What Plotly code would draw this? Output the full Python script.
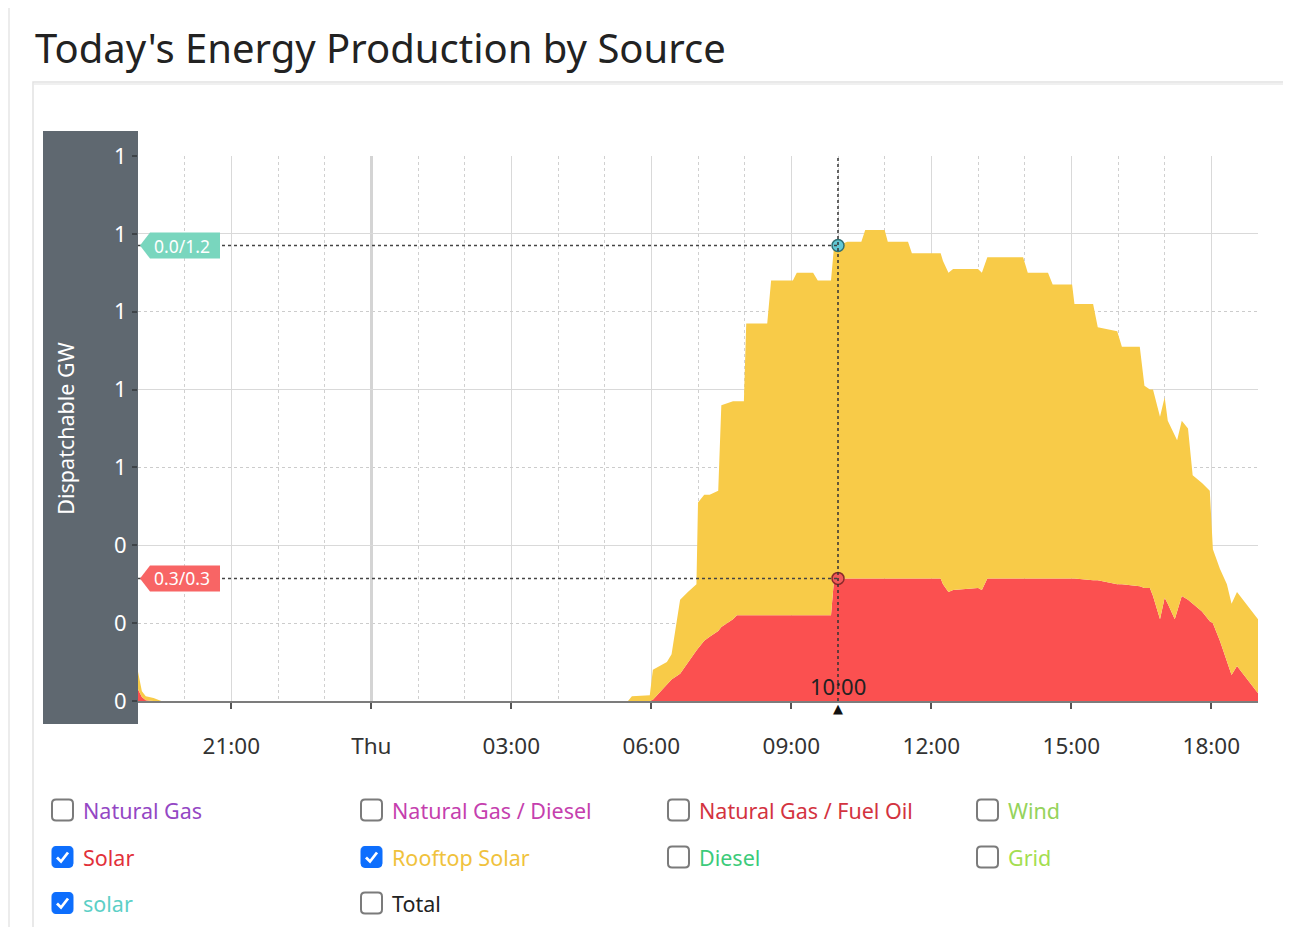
import plotly.graph_objects as go

# ---------------- data ----------------
times = [
    "2024-01-03 19:00", "2024-01-03 19:05", "2024-01-03 19:10", "2024-01-03 19:20", "2024-01-03 19:30",
    "2024-01-04 05:30", "2024-01-04 05:35", "2024-01-04 05:58", "2024-01-04 06:02", "2024-01-04 06:20",
    "2024-01-04 06:26", "2024-01-04 06:37", "2024-01-04 06:47", "2024-01-04 06:58", "2024-01-04 07:00",
    "2024-01-04 07:08", "2024-01-04 07:15", "2024-01-04 07:26", "2024-01-04 07:30", "2024-01-04 07:45",
    "2024-01-04 07:50", "2024-01-04 07:59", "2024-01-04 08:02", "2024-01-04 08:29", "2024-01-04 08:34",
    "2024-01-04 09:02", "2024-01-04 09:07", "2024-01-04 09:28", "2024-01-04 09:34", "2024-01-04 09:51",
    "2024-01-04 09:55", "2024-01-04 10:00", "2024-01-04 10:12", "2024-01-04 10:30", "2024-01-04 10:35",
    "2024-01-04 11:00", "2024-01-04 11:04", "2024-01-04 11:30", "2024-01-04 11:35", "2024-01-04 12:12",
    "2024-01-04 12:15", "2024-01-04 12:22", "2024-01-04 12:28", "2024-01-04 13:00", "2024-01-04 13:05",
    "2024-01-04 13:12", "2024-01-04 13:58", "2024-01-04 14:04", "2024-01-04 14:30", "2024-01-04 14:36",
    "2024-01-04 15:01", "2024-01-04 15:04", "2024-01-04 15:28", "2024-01-04 15:34", "2024-01-04 15:59",
    "2024-01-04 16:05", "2024-01-04 16:28", "2024-01-04 16:34", "2024-01-04 16:41", "2024-01-04 16:45",
    "2024-01-04 16:54", "2024-01-04 17:00", "2024-01-04 17:04", "2024-01-04 17:13", "2024-01-04 17:16",
    "2024-01-04 17:22", "2024-01-04 17:30", "2024-01-04 17:36", "2024-01-04 17:48", "2024-01-04 17:58",
    "2024-01-04 18:02", "2024-01-04 18:11", "2024-01-04 18:20", "2024-01-04 18:26", "2024-01-04 18:33",
    "2024-01-04 19:00",
]

# Solar (GW)
solar = [
    0.03, 0.01, 0.002, 0.0, 0.0,
    0.0, 0.0, 0.0, 0.003, 0.04,
    0.055, 0.07, 0.10, 0.13, 0.135,
    0.155, 0.165, 0.18, 0.19, 0.21,
    0.22, 0.22, 0.22, 0.22, 0.22,
    0.22, 0.22, 0.22, 0.22, 0.22,
    0.315, 0.315, 0.315, 0.315, 0.315,
    0.315, 0.315, 0.315, 0.315, 0.315,
    0.30, 0.28, 0.285, 0.29, 0.285,
    0.315, 0.315, 0.315, 0.315, 0.315,
    0.315, 0.315, 0.31, 0.31, 0.30,
    0.30, 0.295, 0.29, 0.29, 0.27,
    0.21, 0.265, 0.25, 0.21, 0.23,
    0.27, 0.26, 0.25, 0.23, 0.205,
    0.20, 0.155, 0.105, 0.067, 0.09,
    0.02,
]

# Rooftop Solar (GW)
rooftop = [
    0.045, 0.015, 0.010, 0.008, 0.0,
    0.0, 0.012, 0.015, 0.077, 0.06,
    0.065, 0.19, 0.18, 0.17, 0.375,
    0.375, 0.365, 0.36, 0.57, 0.56,
    0.55, 0.55, 0.75, 0.75, 0.86,
    0.86, 0.88, 0.88, 0.86, 0.86,
    0.855, 0.855, 0.865, 0.865, 0.895,
    0.895, 0.865, 0.865, 0.835, 0.835,
    0.83, 0.82, 0.825, 0.82, 0.815,
    0.825, 0.825, 0.785, 0.785, 0.755,
    0.755, 0.705, 0.71, 0.65, 0.65,
    0.61, 0.615, 0.52, 0.51, 0.53,
    0.52, 0.515, 0.47, 0.47, 0.44,
    0.45, 0.44, 0.33, 0.33, 0.335,
    0.19, 0.185, 0.195, 0.183, 0.19,
    0.19,
]

# "solar" (lower-case series, GW)
solar_lc = [
    0.0, 0.0, 0.0, 0.0, 0.0, 0.0, 0.0, 0.0, 0.0, 0.0,
    0.0, 0.0, 0.0, 0.0, 0.0, 0.0, 0.0, 0.0, 0.0, 0.0,
    0.0, 0.0, 0.0, 0.0, 0.0, 0.0, 0.0, 0.0, 0.0, 0.0,
    0.0, 0.0, 0.0, 0.0, 0.0, 0.0, 0.0, 0.0, 0.0, 0.0,
    0.0, 0.0, 0.0, 0.0, 0.0, 0.0, 0.0, 0.0, 0.0, 0.0,
    0.0, 0.0, 0.0, 0.0, 0.0, 0.0, 0.0, 0.0, 0.0, 0.0,
    0.0, 0.0, 0.0, 0.0, 0.0, 0.0, 0.0, 0.0, 0.0, 0.0,
    0.0, 0.0, 0.0, 0.0, 0.0, 0.0,
]

x_tick_vals = ["2024-01-03 21:00", "2024-01-04 00:00", "2024-01-04 03:00", "2024-01-04 06:00",
               "2024-01-04 09:00", "2024-01-04 12:00", "2024-01-04 15:00", "2024-01-04 18:00"]
x_tick_text = ["21:00", "Thu", "03:00", "06:00", "09:00", "12:00", "15:00", "18:00"]
day_boundary = ["2024-01-04 00:00"]

hover_time = "2024-01-04 10:00"
hover_label = "10:00"

legend_names = ["Natural Gas", "Natural Gas / Diesel", "Natural Gas / Fuel Oil", "Wind",
                "Solar", "Rooftop Solar", "Diesel", "Grid",
                "solar", "Total"]
legend_colors = ["#9447c4", "#c53fae", "#d3333f", "#95d35b",
                 "#e2303a", "#f0c23c", "#3ccb7a", "#a4de50",
                 "#5ccfc6", "#222222"]
legend_checked = [False, False, False, False,
                  True, True, False, False,
                  True, False]

# ---------------- styling ----------------
RED = "#fb5050"
YELLOW = "#f8cb48"
PANEL = "#5f6870"

# plot-area edges in screenshot pixels (page has an 8px body margin)
OFF = 8
PL, PR, PT, PB = 138, 1258, 156, 701
W, H = 1291 - OFF, 927 - OFF


def px(x):
    return (x - PL) / (PR - PL)


def py(y):
    return (PB - y) / (PB - PT)


def rrect(x0, y0, x1, y1, r):
    pts = [
        ("M", (x0 + r, y0)), ("L", (x1 - r, y0)), ("Q", (x1, y0), (x1, y0 + r)),
        ("L", (x1, y1 - r)), ("Q", (x1, y1), (x1 - r, y1)), ("L", (x0 + r, y1)),
        ("Q", (x0, y1), (x0, y1 - r)), ("L", (x0, y0 + r)), ("Q", (x0, y0), (x0 + r, y0)),
    ]
    s = ""
    for item in pts:
        cmd = item[0]
        coords = " ".join(f"{px(a):.5f},{py(b):.5f}" for a, b in item[1:])
        s += f"{cmd} {coords} "
    return s + "Z"


hidx = times.index(hover_time)
cum_solar = solar[hidx]
cum_total = solar[hidx] + rooftop[hidx] + solar_lc[hidx]

fig = go.Figure()
fig.add_trace(go.Scatter(x=times, y=solar, name="Solar", stackgroup="one", mode="lines",
                         line=dict(width=0, color=RED), fillcolor=RED, hoverinfo="skip"))
fig.add_trace(go.Scatter(x=times, y=rooftop, name="Rooftop Solar", stackgroup="one", mode="lines",
                         line=dict(width=0, color=YELLOW), fillcolor=YELLOW, hoverinfo="skip"))
fig.add_trace(go.Scatter(x=times, y=solar_lc, name="solar", stackgroup="one", mode="lines",
                         line=dict(width=0, color="#5ccfc6"), fillcolor="rgba(0,0,0,0)", hoverinfo="skip"))
# overlay axes only used for extra gridlines
fig.add_trace(go.Scatter(x=[], y=[], xaxis="x2", yaxis="y2", showlegend=False))

# hover markers
fig.add_trace(go.Scatter(x=[hover_time], y=[cum_total], mode="markers", cliponaxis=False,
                         marker=dict(size=12, color="#62c9d6", line=dict(color="#2f6f72", width=1.5))))
fig.add_trace(go.Scatter(x=[hover_time], y=[cum_solar], mode="markers", cliponaxis=False,
                         marker=dict(size=12, color="#f25a5a", line=dict(color="#8a2b2b", width=1.5))))

shapes = []
annotations = []

# page left border
shapes.append(dict(type="line", xref="paper", yref="paper", x0=px(9), x1=px(9), y0=py(0), y1=py(927),
                   line=dict(color="#e6e6e6", width=1.5), layer="below"))
# card
shapes.append(dict(type="rect", xref="paper", yref="paper", x0=px(33), x1=px(1300), y0=py(82), y1=py(940),
                   line=dict(color="#e2e2e2", width=1.5), fillcolor="rgba(0,0,0,0)", layer="below"))
shapes.append(dict(type="line", xref="paper", yref="paper", x0=px(34), x1=px(1300), y0=py(84), y1=py(84),
                   line=dict(color="#f0f0f0", width=2), layer="below"))
# y-axis panel
shapes.append(dict(type="rect", xref="paper", yref="paper", x0=px(43), x1=px(138), y0=py(131), y1=py(724),
                   line=dict(width=0), fillcolor=PANEL, layer="below"))

# crosshair
shapes.append(dict(type="line", xref="x", yref="y", x0=hover_time, x1=hover_time, y0=0, y1=1.4,
                   line=dict(color="#333333", width=1.5, dash="dot")))
for val, col, txt in [
    (cum_total, "#79d6be", f"{solar_lc[hidx]:.1f}/{cum_total:.1f}"),
    (cum_solar, "#f86565", f"{solar[hidx]:.1f}/{cum_solar:.1f}"),
]:
    shapes.append(dict(type="line", xref="x", yref="y", x0=times[0], x1=hover_time, y0=val, y1=val,
                       line=dict(color="#444444", width=1.5, dash="dot")))
    shapes.append(dict(type="path", xref="x", yref="y", xsizemode="pixel", ysizemode="pixel",
                       xanchor=times[0], yanchor=val,
                       path="M 2,0 L 12,13 L 82,13 L 82,-13 L 12,-13 Z",
                       fillcolor=col, line=dict(width=0)))
    annotations.append(dict(x=times[0], y=val, xref="x", yref="y", text=txt, showarrow=False,
                            xanchor="center", yanchor="middle", xshift=44,
                            font=dict(color="white", size=17.5, family="Noto Sans")))

annotations.append(dict(x=hover_time, y=0, xref="x", yref="y", text=hover_label, showarrow=False,
                        xanchor="center", yanchor="bottom", yshift=-2,
                        font=dict(color="#222222", size=22, family="Noto Sans")))
annotations.append(dict(x=hover_time, y=0, xref="x", yref="y", text="▲", showarrow=False,
                        xanchor="center", yanchor="top", yshift=2,
                        font=dict(color="#111111", size=13, family="DejaVu Sans")))

# title
annotations.append(dict(x=px(33), y=py(47), xref="paper", yref="paper", text="Today's Energy Production by Source",
                        showarrow=False, xanchor="left", yanchor="middle",
                        font=dict(color="#222222", size=40, family="Noto Sans")))

# legend (checkbox list)
col_x = [52, 361, 668, 977]
row_y = [810, 857, 903]
for i, name in enumerate(legend_names):
    cx = col_x[i % 4]
    cy = row_y[i // 4]
    half = 10.5
    if legend_checked[i]:
        shapes.append(dict(type="path", xref="paper", yref="paper",
                           path=rrect(cx, cy - half, cx + 21, cy + half, 4),
                           fillcolor="#0d6efd", line=dict(color="#0d6efd", width=1)))
        chk = f"M {px(cx + 5):.5f},{py(cy + 0.5):.5f} L {px(cx + 9):.5f},{py(cy + 4.5):.5f} L {px(cx + 16):.5f},{py(cy - 4.5):.5f}"
        shapes.append(dict(type="path", xref="paper", yref="paper", path=chk,
                           line=dict(color="white", width=2.8)))
    else:
        shapes.append(dict(type="path", xref="paper", yref="paper",
                           path=rrect(cx, cy - half, cx + 21, cy + half, 4),
                           fillcolor="white", line=dict(color="#7b7b7b", width=2)))
    annotations.append(dict(x=px(cx + 29), y=py(cy), xref="paper", yref="paper", text=name,
                            showarrow=False, xanchor="left", yanchor="middle",
                            font=dict(color=legend_colors[i], size=21.5, family="Noto Sans")))

fig.update_layout(
    width=W, height=H,
    margin=dict(l=PL - OFF, r=W - (PR - OFF), t=PT - OFF, b=H - (PB - OFF), autoexpand=False),
    paper_bgcolor="white", plot_bgcolor="white",
    showlegend=False, hovermode=False,
    shapes=shapes, annotations=annotations,
    font=dict(family="Noto Sans"),
    xaxis=dict(
        type="date", range=[times[0], times[-1]],
        tickmode="array", tickvals=x_tick_vals, ticktext=x_tick_text,
        showgrid=True, gridcolor="#d9d9d9", gridwidth=1,
        minor=dict(tickmode="linear", tick0="2024-01-03 19:00", dtick=3600000, showgrid=True,
                   gridcolor="#d0d0d0", griddash="dot", gridwidth=1, ticks=""),
        showline=True, linecolor="#7c7c7c", linewidth=2,
        ticks="outside", ticklen=6, tickcolor="#555555", tickwidth=1.5,
        ticklabelstandoff=18,
        tickfont=dict(size=22.5, color="#333333", family="Noto Sans"),
        zeroline=False, fixedrange=True,
    ),
    xaxis2=dict(
        type="date", overlaying="x", range=[times[0], times[-1]],
        tickmode="array", tickvals=day_boundary, showticklabels=False, ticks="",
        showgrid=True, gridcolor="#d4d4d4", gridwidth=3, showline=False, zeroline=False,
    ),
    yaxis=dict(
        range=[0, 1.4], tickmode="linear", tick0=0, dtick=0.2, tickformat=".0f",
        showgrid=True, gridcolor="#cccccc", griddash="dot", gridwidth=1,
        showline=False, zeroline=False,
        ticks="outside", ticklen=5, tickcolor="#3f4448", tickwidth=1.5,
        ticklabelstandoff=1,
        tickfont=dict(size=22, color="white", family="Noto Sans"),
        title=dict(text="Dispatchable GW", standoff=33, font=dict(size=21.5, color="white", family="Noto Sans")),
        fixedrange=True,
    ),
    yaxis2=dict(
        overlaying="y", range=[0, 1.4], tickmode="linear", tick0=0, dtick=0.4,
        showticklabels=False, ticks="", showgrid=True, gridcolor="#d9d9d9", gridwidth=1,
        showline=False, zeroline=False,
    ),
)

fig.write_html("out.html")
